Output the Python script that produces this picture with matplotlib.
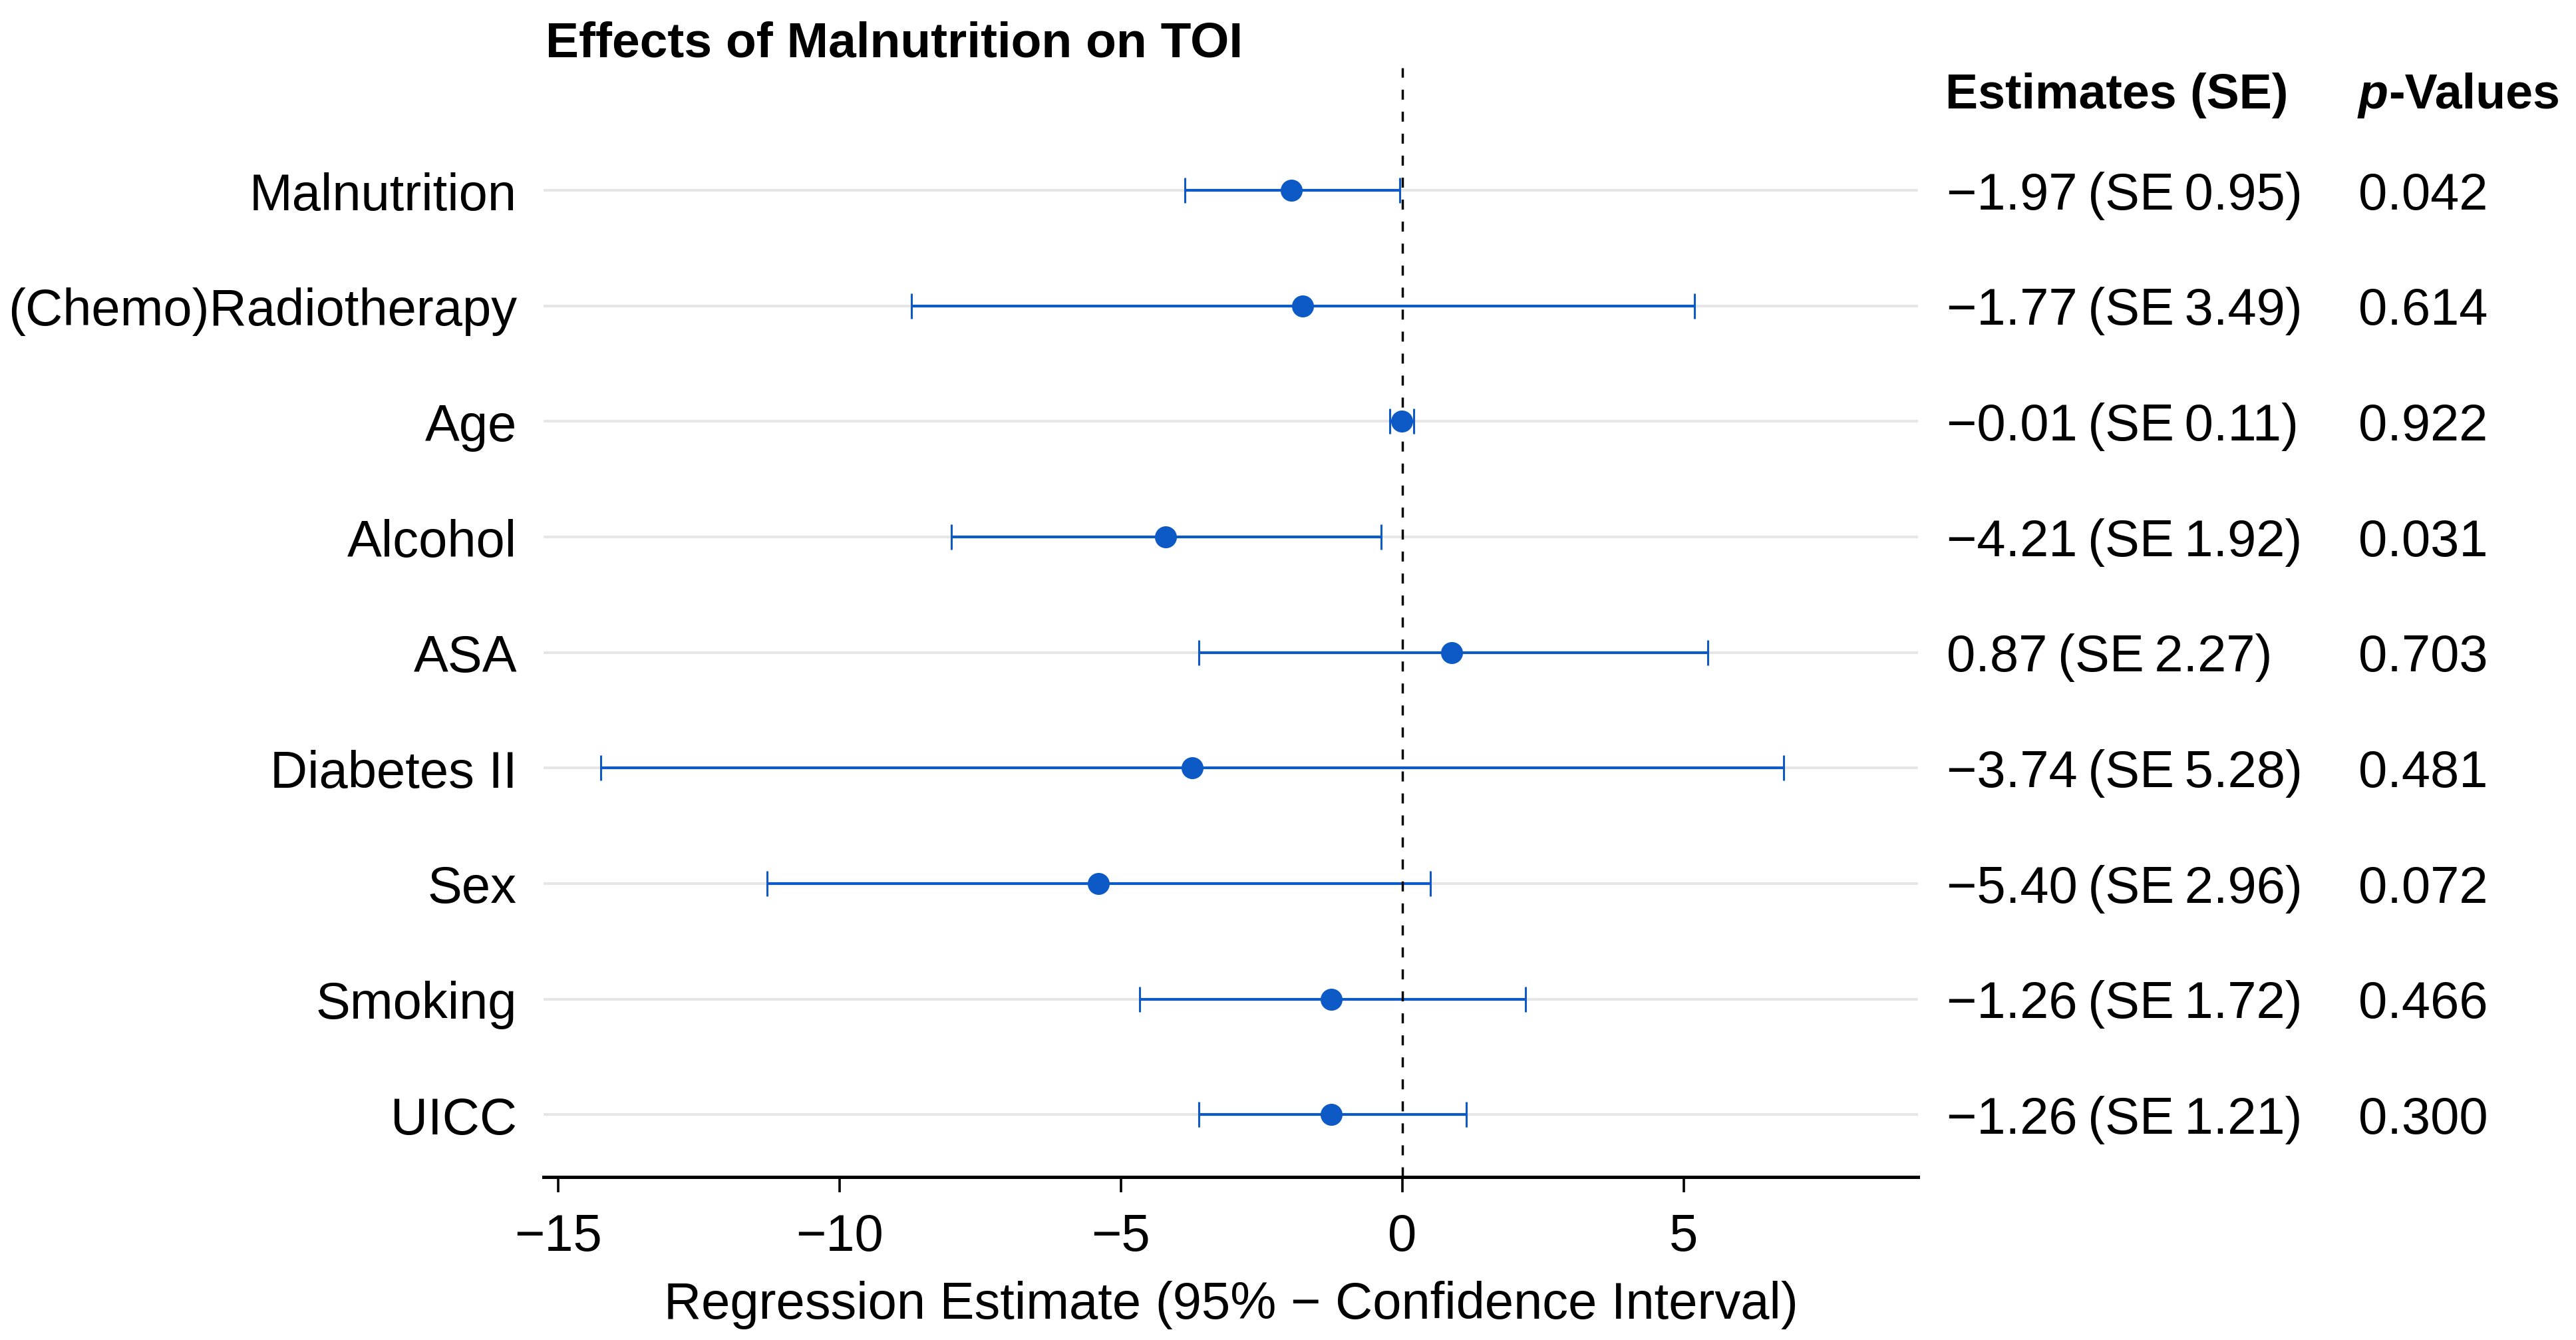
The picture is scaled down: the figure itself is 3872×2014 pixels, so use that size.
import matplotlib
matplotlib.use("Agg")
import matplotlib.pyplot as plt
import matplotlib.transforms as mtrans
import numpy as np

# ---- data ----
labels = ["Malnutrition", "(Chemo)Radiotherapy", "Age", "Alcohol", "ASA",
          "Diabetes II", "Sex", "Smoking", "UICC"]
estimates = [-1.97, -1.77, -0.01, -4.21, 0.87, -3.74, -5.40, -1.26, -1.26]
std_err = [0.95, 3.49, 0.11, 1.92, 2.27, 5.28, 2.96, 1.72, 1.21]
ci_low = [-3.87, -8.72, -0.23, -8.02, -3.62, -14.24, -11.29, -4.67, -3.62]
ci_high = [-0.05, 5.19, 0.20, -0.38, 5.43, 6.77, 0.50, 2.19, 1.14]
p_values = ["0.042", "0.614", "0.922", "0.031", "0.703", "0.481", "0.072", "0.466", "0.300"]
x_ticks = [-15, -10, -5, 0, 5]

title = "Effects of Malnutrition on TOI"
x_label = "Regression Estimate (95% \u2212 Confidence Interval)"
col1_header = "Estimates (SE)"

# ---- style ----
plt.rcParams["font.family"] = ["Liberation Sans", "DejaVu Sans"]
plt.rcParams["lines.scale_dashes"] = False
blue = "#0d59c6"
FS = 28

fig = plt.figure(figsize=(19.36, 10.075), dpi=200)
W, H = 3872, 2015
ax = fig.add_axes([817 / W, 1 - 1770 / H, (2883 - 817) / W, (1770 - 103) / H])

n = len(labels)
ypos = np.arange(n)[::-1]
est = np.array(estimates)
lo = np.array(ci_low)
hi = np.array(ci_high)

ax.set_xlim(-15.26, 9.16)
ax.set_ylim(-0.54, n - 1 + 1.06)

for y in ypos:
    ax.axhline(y, color="#e6e6e6", lw=1.45, zorder=1)

ax.errorbar(est, ypos, xerr=[est - lo, hi - est], fmt="none", ecolor=blue,
            elinewidth=1.5, capsize=6.8, capthick=1.1, zorder=2)
ax.axvline(0, color="black", lw=1.25, dashes=(5.4, 6.5), zorder=3)
ax.plot(est, ypos, "o", color=blue, ms=11.9, mec="none", zorder=4)

for s in ["top", "right", "left"]:
    ax.spines[s].set_visible(False)
ax.spines["bottom"].set_linewidth(1.8)

ax.set_xticks(x_ticks)
ax.set_xticklabels([f"{t}".replace("-", "\u2212") for t in x_ticks])
ax.tick_params(axis="x", length=8.3, width=1.3, pad=10.8, labelsize=FS)
ax.set_yticks(ypos)
ax.set_yticklabels(labels)
ax.tick_params(axis="y", length=0, pad=14.4, labelsize=FS)
ax.set_xlabel(x_label, fontsize=FS, labelpad=10.4)

# title and column headers
fig.text(820 / W, 1 - 85 / H, title, fontsize=27, fontweight="bold", va="baseline", ha="left")
fig.text(2924 / W, 1 - 163 / H, col1_header, fontsize=26.5, fontweight="bold",
         va="baseline", ha="left")
tp = fig.text(3545 / W, 1 - 163 / H, "p", fontsize=26.5, fontweight="bold",
              style="italic", va="baseline", ha="left")
ax.annotate("-Values", xy=(1, 0), xycoords=tp, va="bottom", ha="left",
            fontsize=26.5, fontweight="bold", annotation_clip=False)

# column values
trans = mtrans.blended_transform_factory(fig.transFigure, ax.transData)
trans = trans + mtrans.ScaledTranslation(0, -10 / 72, fig.dpi_scale_trans)
for y, e, s, p in zip(ypos, estimates, std_err, p_values):
    txt = f"{e:.2f}\u2009(SE\u2009{s:.2f})".replace("-", "\u2212")
    ax.text(2926 / W, y, txt, transform=trans, fontsize=FS, va="baseline", ha="left",
            clip_on=False)
    ax.text(3545 / W, y, p, transform=trans, fontsize=FS, va="baseline", ha="left",
            clip_on=False)

fig.savefig("out.png", dpi=200)
